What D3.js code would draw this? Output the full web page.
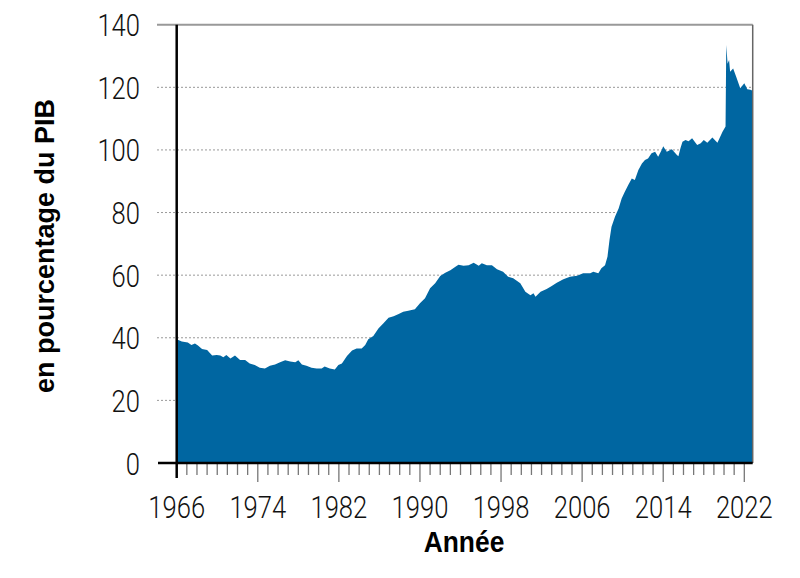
<!DOCTYPE html>
<html><head><meta charset="utf-8">
<script src="https://cdn.jsdelivr.net/npm/d3@7"></script>
<style>body{margin:0;background:#fff} svg{display:block}</style>
</head><body>
<svg id="c" width="800" height="578"></svg>
<script>
// Debt in % of GDP
const years = [1966.0,1966.5,1967.1,1967.45,1967.8,1968.1,1968.5,1969.0,1969.5,1969.95,1970.3,1970.6,1970.9,1971.3,1971.75,1972.25,1972.75,1973.2,1973.7,1974.2,1974.7,1975.2,1975.7,1976.2,1976.7,1977.2,1977.7,1978.0,1978.35,1978.8,1979.3,1979.8,1980.3,1980.6,1981.1,1981.6,1981.95,1982.3,1982.8,1983.3,1983.75,1984.25,1984.6,1984.9,1985.4,1985.9,1986.4,1986.9,1987.4,1987.9,1988.35,1988.85,1989.5,1990.0,1990.5,1991.0,1991.5,1992.0,1992.5,1993.0,1993.5,1993.8,1994.3,1994.8,1995.3,1995.8,1996.1,1996.6,1997.1,1997.6,1998.2,1998.7,1999.2,1999.9,2000.4,2000.9,2001.2,2001.4,2001.9,2002.5,2003.0,2003.5,2004.15,2004.8,2005.5,2006.1,2006.8,2007.1,2007.6,2007.9,2008.26,2008.5,2008.7,2008.9,2009.25,2009.6,2009.9,2010.2,2010.55,2010.9,2011.2,2011.55,2011.9,2012.2,2012.5,2012.85,2013.2,2013.5,2013.85,2014.0,2014.35,2014.85,2015.35,2015.5,2015.7,2015.9,2016.2,2016.5,2016.85,2017.35,2017.7,2018.0,2018.35,2018.85,2019.35,2019.85,2020.05,2020.15,2020.22,2020.35,2020.5,2020.6,2020.9,2021.2,2021.6,2022.0,2022.3,2022.6,2022.83];
const values = [39.5,38.8,38.5,37.7,38.2,37.5,36.4,36.1,34.3,34.5,34.3,33.8,34.5,33.4,34.3,32.9,32.9,31.8,31.3,30.4,30.2,31.1,31.5,32.2,32.8,32.4,32.2,32.8,31.5,31.1,30.4,30.2,30.2,30.8,30.2,29.9,31.3,31.8,34.2,35.9,36.6,36.6,37.7,39.5,40.6,43.0,44.6,46.4,46.9,47.6,48.3,48.6,49.1,51.0,52.6,55.8,57.4,59.7,60.8,61.6,62.7,63.3,63.0,63.2,64.0,63.0,63.8,63.2,63.2,61.9,61.1,59.5,59.0,57.4,54.7,53.6,54.2,53.1,54.7,55.6,56.5,57.6,58.7,59.5,59.8,60.6,60.6,61.1,60.6,62.2,63.2,65.9,71.2,75.5,78.7,81.3,84.5,86.6,88.8,90.9,90.4,93.6,95.7,96.8,97.3,98.9,99.4,97.8,100.0,101.2,99.4,100.2,98.4,98.0,100.5,102.6,103.2,102.8,103.7,101.6,102.1,103.2,102.3,104.0,102.3,105.8,106.9,107.5,133.5,127.5,128.7,125.0,126.0,123.4,119.7,121.3,119.4,119.2,118.9];
const yTicks = [0,20,40,60,80,100,120];
const yTop = 140;
const xLabelYears = [1966,1974,1982,1990,1998,2006,2014,2022];
const minorYears = d3.range(1967, 2023);
const yTitle = "en pourcentage du PIB";
const xTitle = "Année";

const svg = d3.select("#c");
const x = d3.scaleLinear().domain([1966, 2022]).range([176.7, 744.3]);
const y = d3.scaleLinear().domain([0, 140]).range([463, 24.7]);
const xEnd = x(years[years.length - 1]);
const xLeft = 157;

const tickFont = "Roboto,'Liberation Sans',sans-serif";
const squeeze = 0.8;

// gridlines
svg.append("g").selectAll("line").data(yTicks.filter(d => d > 0)).join("line")
  .attr("x1", xLeft).attr("x2", xEnd)
  .attr("y1", d => y(d)).attr("y2", d => y(d))
  .attr("stroke", "#999").attr("stroke-width", 1).attr("stroke-dasharray", "2,2");

// area
const area = d3.area().x((d, i) => x(years[i])).y0(y(0)).y1(d => y(d)).curve(d3.curveLinear);
svg.append("path").datum(values).attr("d", area).attr("fill", "#0066a1");

// frame top / right
svg.append("line").attr("x1", xLeft).attr("x2", xEnd).attr("y1", y(yTop)).attr("y2", y(yTop))
  .attr("stroke", "#999").attr("stroke-width", 2);
svg.append("line").attr("x1", xEnd).attr("x2", xEnd).attr("y1", y(yTop)).attr("y2", y(0))
  .attr("stroke", "#666").attr("stroke-width", 1.5);

// x ticks
svg.append("g").selectAll("line").data(minorYears).join("line")
  .attr("x1", d => x(d)).attr("x2", d => x(d))
  .attr("y1", y(0)).attr("y2", d => (d - 1966) % 8 === 0 ? y(0) + 19 : y(0) + 12)
  .attr("stroke", "#777").attr("stroke-width", 1.3);

// baseline & y axis
svg.append("line").attr("x1", xLeft + 1).attr("x2", xEnd).attr("y1", y(0)).attr("y2", y(0))
  .attr("stroke", "#000").attr("stroke-width", 2.5);
svg.append("line").attr("x1", x(1966)).attr("x2", x(1966)).attr("y1", y(yTop)).attr("y2", y(0) + 15)
  .attr("stroke", "#000").attr("stroke-width", 2.5);

// y labels
svg.append("g").selectAll("text").data(yTicks.concat([yTop])).join("text")
  .attr("transform", d => `translate(140,${y(d) + 11.5}) scale(${squeeze},1)`)
  .attr("text-anchor", "end")
  .attr("font-family", tickFont).attr("font-weight", 300).attr("font-size", 32).attr("fill", "#111")
  .text(d => d);

// x labels
svg.append("g").selectAll("text").data(xLabelYears).join("text")
  .attr("transform", d => `translate(${x(d)},518) scale(${squeeze},1)`)
  .attr("text-anchor", "middle")
  .attr("font-family", tickFont).attr("font-weight", 300).attr("font-size", 32).attr("fill", "#111")
  .text(d => d);

// titles
svg.append("text").attr("transform", "translate(464,552) scale(0.88,1)").attr("text-anchor", "middle")
  .attr("font-family", "'Liberation Sans',Arial,sans-serif").attr("font-weight", "bold").attr("font-size", 30).attr("fill", "#000")
  .text(xTitle);
svg.append("text").attr("transform", "translate(53.5,246) rotate(-90)").attr("text-anchor", "middle")
  .attr("font-family", "'Liberation Sans',Arial,sans-serif").attr("font-weight", "bold").attr("font-size", 27).attr("fill", "#000")
  .text(yTitle);
</script>
</body></html>
